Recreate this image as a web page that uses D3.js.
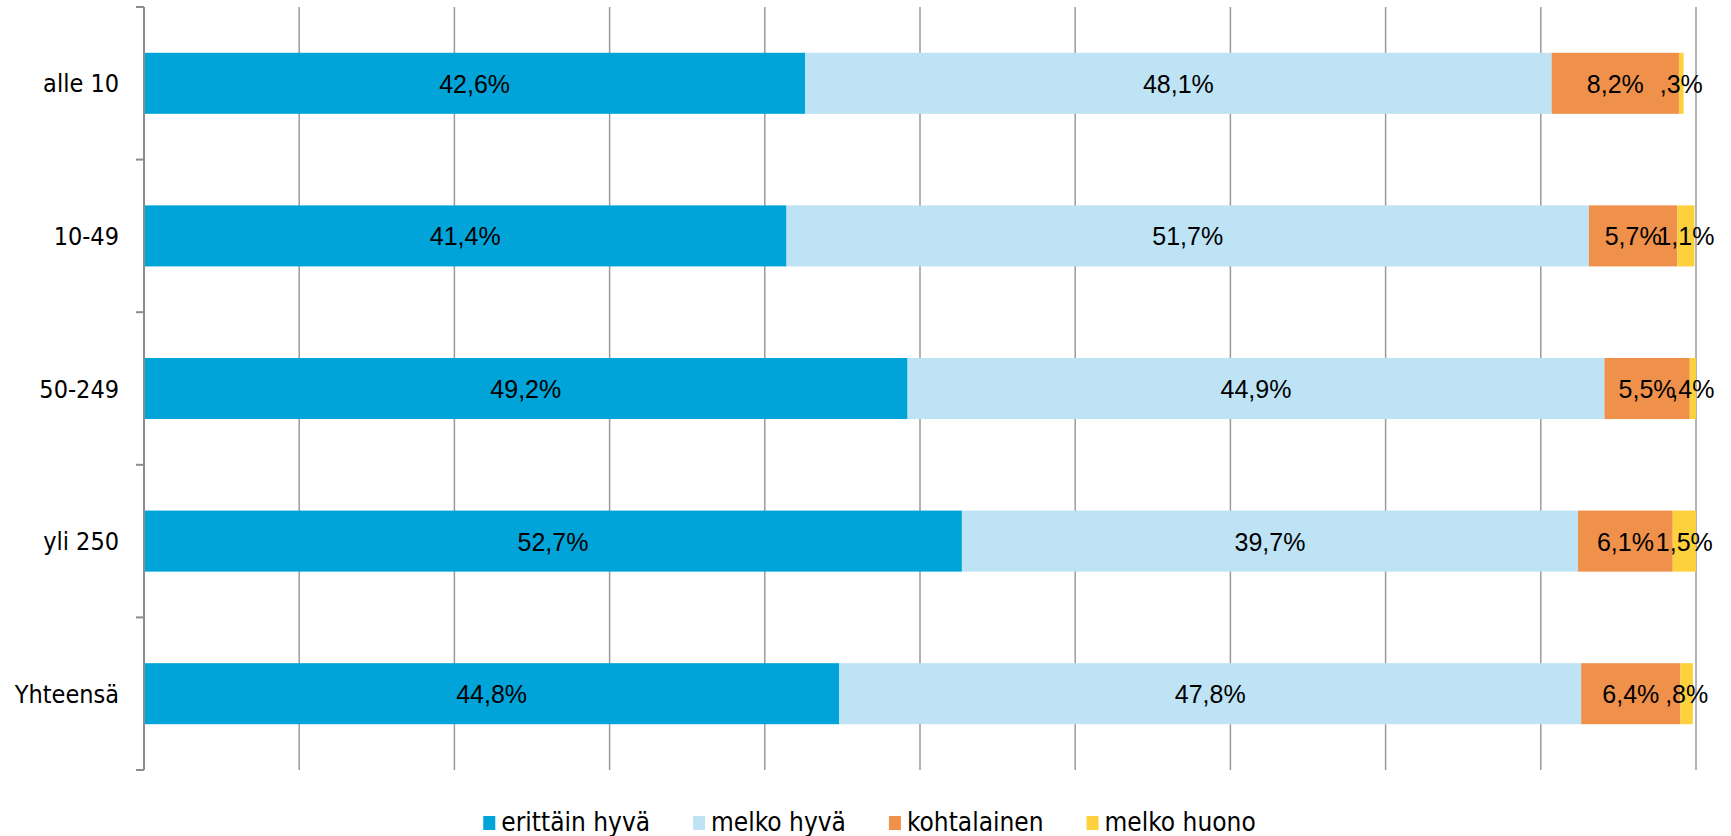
<!DOCTYPE html>
<html>
<head>
<meta charset="utf-8">
<script src="https://cdn.jsdelivr.net/npm/d3@7"></script>
<style>
  html, body { margin: 0; padding: 0; background: #fff; }
  svg { display: block; }
</style>
</head>
<body>
<svg id="chart" width="1731" height="836"></svg>
<script>
const categories = ["alle 10", "10-49", "50-249", "yli 250", "Yhteensä"];
const seriesNames = ["erittäin hyvä", "melko hyvä", "kohtalainen", "melko huono"];
const erittainHyva = [42.6, 41.4, 49.2, 52.7, 44.8];
const melkoHyva    = [48.1, 51.7, 44.9, 39.7, 47.8];
const kohtalainen  = [8.2, 5.7, 5.5, 6.1, 6.4];
const melkoHuono   = [0.3, 1.1, 0.4, 1.5, 0.8];
const xTicks = [0, 10, 20, 30, 40, 50, 60, 70, 80, 90, 100];
const colors = ["#00a4d9", "#bee3f5", "#f0914b", "#fdd13b"];

const seriesValues = [erittainHyva, melkoHyva, kohtalainen, melkoHuono];
const rows = categories.map((c, i) => {
  const r = { cat: c };
  seriesNames.forEach((s, j) => r[s] = seriesValues[j][i]);
  return r;
});

const svg = d3.select("#chart");
const pLeft = 144, pRight = 1696, pTop = 7, pBottom = 770;

const x = d3.scaleLinear().domain([0, 100]).range([pLeft, pRight]);
const y = d3.scaleBand().domain(categories).range([pTop, pBottom]).padding(0);
const barH = y.bandwidth() * 0.4;

// vertical gridlines
svg.append("g")
  .selectAll("line")
  .data(xTicks.filter(t => t > 0))
  .join("line")
  .attr("x1", d => x(d)).attr("x2", d => x(d))
  .attr("y1", pTop).attr("y2", pBottom)
  .attr("stroke", "#9a9a9a").attr("stroke-width", 1.5);

// stacked bars
const stack = d3.stack().keys(seriesNames)(rows);
const fmt = v => d3.format(".1f")(v).replace(".", ",").replace(/^0/, "") + "%";

const layers = svg.append("g").selectAll("g")
  .data(stack)
  .join("g")
  .attr("fill", (d, i) => colors[i]);

layers.selectAll("rect")
  .data(d => d)
  .join("rect")
  .attr("x", d => x(d[0]))
  .attr("width", d => x(d[1]) - x(d[0]))
  .attr("y", d => y(d.data.cat) + (y.bandwidth() - barH) / 2)
  .attr("height", barH);

// data labels
const labels = svg.append("g")
  .attr("font-family", "'Liberation Sans Narrow', 'Liberation Sans', sans-serif")
  .attr("font-size", 25)
  .attr("fill", "#000")
  .attr("text-anchor", "middle");
stack.forEach(layer => {
  labels.selectAll(null)
    .data(layer)
    .join("text")
    .attr("x", d => (x(d[0]) + x(d[1])) / 2)
    .attr("y", d => y(d.data.cat) + y.bandwidth() / 2)
    .attr("dy", "0.38em")
    .text(d => fmt(d[1] - d[0]));
});

// y axis
const yAxis = svg.append("g");
yAxis.append("line")
  .attr("x1", pLeft).attr("x2", pLeft)
  .attr("y1", pTop).attr("y2", pBottom)
  .attr("stroke", "#8c8c8c").attr("stroke-width", 2);
const boundaries = categories.map(c => y(c)).concat([pBottom]);
yAxis.selectAll("line.tick")
  .data(boundaries)
  .join("line")
  .attr("class", "tick")
  .attr("x1", pLeft - 8).attr("x2", pLeft)
  .attr("y1", d => d).attr("y2", d => d)
  .attr("stroke", "#8c8c8c").attr("stroke-width", 2);
yAxis.selectAll("text")
  .data(categories)
  .join("text")
  .attr("x", 119)
  .attr("y", d => y(d) + y.bandwidth() / 2)
  .attr("dy", "0.36em")
  .attr("text-anchor", "end")
  .attr("font-family", "'DejaVu Sans Condensed', 'DejaVu Sans', sans-serif")
  .attr("font-size", 25)
  .attr("fill", "#000")
  .text(d => d);

// legend
const legend = svg.append("g")
  .attr("font-family", "'DejaVu Sans Condensed', 'DejaVu Sans', sans-serif")
  .attr("font-size", 26)
  .attr("fill", "#000");
let cx = 0;
const items = [];
seriesNames.forEach((s, i) => {
  const g = legend.append("g");
  g.append("rect").attr("x", 0).attr("y", 816).attr("width", 12).attr("height", 14).attr("fill", colors[i]);
  const t = g.append("text").attr("x", 18).attr("y", 831).text(s);
  const w = t.node().getComputedTextLength();
  items.push({ g, start: cx });
  cx += 18 + w + 43;
});
const total = cx - 43;
const offset = 1731 / 2 - total / 2 + 4;
items.forEach(it => it.g.attr("transform", `translate(${offset + it.start},0)`));
</script>
</body>
</html>
